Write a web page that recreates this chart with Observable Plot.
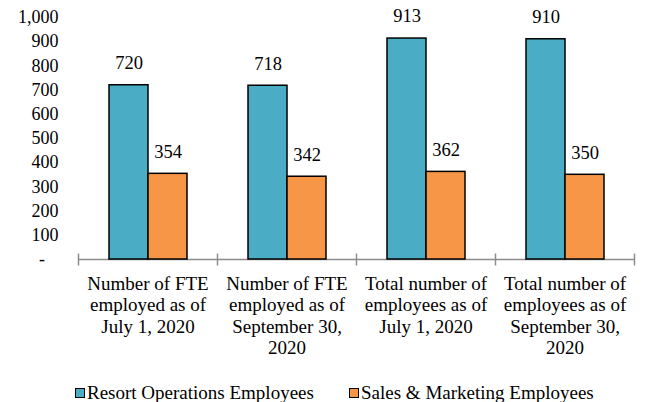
<!DOCTYPE html>
<html><head><meta charset="utf-8">
<script src="https://cdn.jsdelivr.net/npm/d3@7"></script>
<script src="https://cdn.jsdelivr.net/npm/@observablehq/plot@0.6"></script>
<style>
body{margin:0;background:#fff;font-family:"Liberation Serif","Times New Roman",serif;}
#legend{position:relative;height:24px;margin-top:16px;font-size:19px;color:#000;}
.item{position:absolute;top:0;display:flex;align-items:center;white-space:nowrap;line-height:24px;}
.sw{width:8px;height:8px;border:1.5px solid #000;margin-right:2px;}
</style></head><body><div id="chart"></div><div id="legend"></div>
<script>
const categories = [
  "Number of FTE employed as of July 1, 2020",
  "Number of FTE employed as of September 30, 2020",
  "Total number of employees as of July 1, 2020",
  "Total number of employees as of September 30, 2020"
];
const categoryTickLabels = [
  "Number of FTE\nemployed as of\nJuly 1, 2020",
  "Number of FTE\nemployed as of\nSeptember 30,\n2020",
  "Total number of\nemployees as of\nJuly 1, 2020",
  "Total number of\nemployees as of\nSeptember 30,\n2020"
];
const series = ["Resort Operations Employees", "Sales & Marketing Employees"];
const resortValues = [720, 718, 913, 910];
const salesValues = [354, 342, 362, 350];
const colors = ["#4BACC6", "#F79646"];
const yTicks = [0, 100, 200, 300, 400, 500, 600, 700, 800, 900, 1000];

const data = categories.flatMap((c, i) => [
  {category: c, series: series[0], value: resortValues[i]},
  {category: c, series: series[1], value: salesValues[i]}
]);

const vline = {draw(ctx, size) { const r = Math.sqrt(size / Math.PI); ctx.moveTo(0, -r); ctx.lineTo(0, r); }};
const fmt = d3.format(",");
const gray = "#8c8c8c";

const chart = Plot.plot({
  width: 647,
  height: 365,
  marginLeft: 77,
  marginRight: 12,
  marginTop: 17,
  marginBottom: 106,
  style: {fontFamily: "'Liberation Serif', 'Times New Roman', serif", fontSize: "18px", color: "#000", background: "#fff"},
  fx: {domain: categories, padding: 0, label: null},
  x: {domain: series, axis: null, paddingInner: 0, paddingOuter: 0.744},
  y: {domain: [0, 1000]},
  color: {domain: series, range: colors},
  marks: [
    Plot.ruleY([0], {stroke: gray, strokeWidth: 1.5}),
    Plot.dot(categories, {fx: d => d, y: () => 0, frameAnchor: "left", symbol: vline, r: 6, stroke: gray, strokeWidth: 1.5, fill: "none"}),
    Plot.dot(categories.slice(-1), {fx: d => d, y: () => 0, frameAnchor: "right", symbol: vline, r: 6, stroke: gray, strokeWidth: 1.5, fill: "none"}),
    Plot.barY(data, {fx: "category", x: "series", y: "value", fill: "series", stroke: "#000", strokeWidth: 1.5}),
    Plot.text(data, {fx: "category", x: "series", y: "value", text: d => fmt(d.value), dy: -22, fontSize: 18.5, fill: "#000"}),
    Plot.axisY({ticks: yTicks, tickSize: 0, tickPadding: 20, fontSize: 18, label: null,
      tickFormat: d => d === 0 ? "-\u00a0\u00a0\u00a0" : fmt(d)}),
    Plot.axisFx({anchor: "bottom", tickSize: 0, tickPadding: 15, fontSize: 19, lineHeight: 1.13, label: null,
      tickFormat: c => categoryTickLabels[categories.indexOf(c)]})
  ]
});
document.getElementById("chart").appendChild(chart);

const legend = document.getElementById("legend");
const lefts = [75, 349];
series.forEach((s, i) => {
  const it = document.createElement("div");
  it.className = "item";
  it.style.left = lefts[i] + "px";
  const sw = document.createElement("span");
  sw.className = "sw";
  sw.style.background = colors[i];
  const t = document.createElement("span");
  t.textContent = s;
  it.appendChild(sw); it.appendChild(t);
  legend.appendChild(it);
});
</script></body></html>
